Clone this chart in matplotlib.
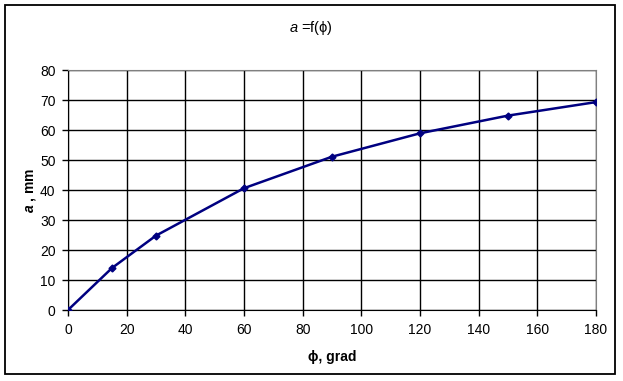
import numpy as np
import matplotlib
matplotlib.use('Agg')
import matplotlib.pyplot as plt
from matplotlib.patches import Rectangle

plt.rcParams['font.family'] = ['Liberation Sans', 'DejaVu Sans']
plt.rcParams['mathtext.fontset'] = 'custom'
plt.rcParams['mathtext.rm'] = 'Liberation Sans'
plt.rcParams['mathtext.it'] = 'Liberation Sans:italic'
plt.rcParams['mathtext.bf'] = 'Liberation Sans:bold'
plt.rcParams['mathtext.bfit'] = 'Liberation Sans:bold:italic'

phi = [0, 15, 30, 60, 90, 120, 150, 180]
a_mm = [0, 14, 24.8, 40.6, 51.1, 58.9, 64.8, 69.3]

fig = plt.figure(figsize=(6.23, 3.81), dpi=100)
ax = fig.add_axes([68/623, 71/381, 528/623, 240/381])

ax.plot(phi, a_mm, color='#000080', lw=1.8, marker='D', ms=3.5, zorder=3)

ax.set_xlim(0, 180)
ax.set_ylim(0, 80)
ax.set_xticks(np.arange(0, 181, 20))
ax.set_yticks(np.arange(0, 81, 10))
ax.grid(True, color='black', lw=1)
ax.tick_params(labelsize=10, length=4, width=1, direction='out', pad=5)
for s in ['top', 'right']:
    ax.spines[s].set_color('#808080')
for s in ['left', 'bottom']:
    ax.spines[s].set_color('black')

ax.set_xlabel('ϕ, grad', fontsize=10, fontweight='bold', labelpad=10)
ax.set_ylabel(r'$\mathbfit{a}$ , mm', fontsize=10, fontweight='bold', labelpad=1)
fig.text(311/623, 1 - 28/381, r'$a$ =f(ϕ)', ha='center', va='center', fontsize=10.5)

fig.patches.append(Rectangle((5/623, 7/381), 610/623, 369/381, transform=fig.transFigure,
                             fill=False, ec='black', lw=1.3))

fig.savefig('out.png', dpi=100)
